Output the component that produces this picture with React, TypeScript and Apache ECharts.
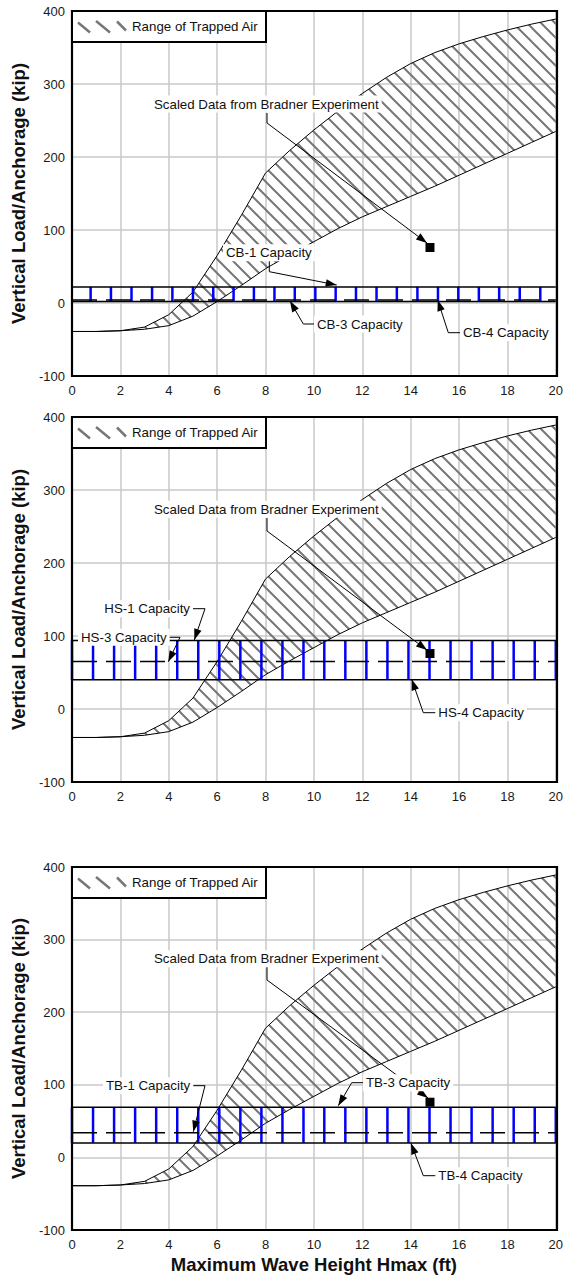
import React, { useEffect, useRef } from "react";
import * as echarts from "echarts";

// ---- data ----
const waveHeights = [0, 1, 2, 3, 4, 5, 6, 7, 8, 9, 10, 11, 12, 13, 14, 15, 16, 17, 18, 19, 20];
const trappedUpper = [-39, -39, -38, -33, -16, 15, 65, 120, 178, 209, 237, 263, 287, 309, 328, 343, 355, 365, 374, 382, 389];
const trappedLower = [-39, -39, -38, -36, -31, -18, 2, 24, 47, 66, 84, 102, 118, 132, 146, 160, 175, 190, 205, 220, 235];
const bradnerPoint = [14.8, 76];

const capTopNames = ["CB-1", "HS-1", "TB-3"];
const capDashNames = ["CB-3", "HS-3", "TB-1"];
const capBottomNames = ["CB-4", "HS-4", "TB-4"];
const capTopValues = [22, 94, 69];
const capDashValues = [4, 65, 34];
const capBottomValues = [2, 40, 20];

const tickXsCB = [0.77, 1.61, 2.46, 3.31, 4.15, 5.0, 5.84, 6.68, 7.52, 8.37, 9.21, 10.06, 10.9, 11.74, 12.59, 13.43, 14.28, 15.13, 15.97, 16.82, 17.66, 18.51, 19.36];
const tickXsHS = [0, 0.87, 1.74, 2.61, 3.48, 4.35, 5.22, 6.09, 6.96, 7.83, 8.7, 9.57, 10.43, 11.3, 12.17, 13.04, 13.91, 14.78, 15.65, 16.52, 17.39, 18.26, 19.13, 20];
const tickXsTB = [0, 0.87, 1.74, 2.61, 3.48, 4.35, 5.22, 6.09, 6.96, 7.83, 8.7, 9.57, 10.43, 11.3, 12.17, 13.04, 13.91, 14.78, 15.65, 16.52, 17.39, 18.26, 19.13, 20];
const tickSets = [tickXsCB, tickXsHS, tickXsTB];

const xMin = 0, xMax = 20, xStep = 2;
const yMin = -100, yMax = 400, yStep = 100;

const yTitle = "Vertical Load/Anchorage (kip)";
const xTitle = "Maximum Wave Height Hmax (ft)";
const legendLabel = "Range of Trapped Air";
const bradnerLabel = "Scaled Data from Bradner Experiment";

// ---- layout ----
const LEFT = 72;
const WIDTH = 485;
const GRIDS = [
  { top: 11, height: 365 },
  { top: 417, height: 365 },
  { top: 867, height: 363 },
];
const FONT = '"Liberation Sans", Arial, Helvetica, sans-serif';
const ANN_FONT = `13.3px ${FONT}`;

type P = [number, number];
type Ann = { text: string; x: number; y: number; pts: P[] };

const annotations: Ann[] = [
  // chart 1
  { text: bradnerLabel, x: 154, y: 104, pts: [[267, 113], [267, 123], [427, 243]] },
  { text: capTopNames[0] + " Capacity", x: 226, y: 252.7, pts: [[269.3, 261], [269.3, 271.7], [336.7, 285]] },
  { text: capDashNames[0] + " Capacity", x: 317, y: 324, pts: [[315, 324], [303.3, 324], [290, 301]] },
  { text: capBottomNames[0] + " Capacity", x: 463, y: 332.7, pts: [[461, 332.7], [448.3, 332.7], [437.7, 300]] },
  // chart 2
  { text: bradnerLabel, x: 154, y: 509.3, pts: [[267, 518], [267, 531], [427, 650]] },
  { text: capTopNames[1] + " Capacity", x: 104.3, y: 608.7, pts: [[192, 608.7], [205, 608.7], [194.3, 640]] },
  { text: capDashNames[1] + " Capacity", x: 81, y: 637.3, pts: [[167, 637.3], [180, 637.3], [168.3, 661.7]] },
  { text: capBottomNames[1] + " Capacity", x: 438.3, y: 712.7, pts: [[436, 712.7], [423.3, 712.7], [411.7, 679.3]] },
  // chart 3
  { text: bradnerLabel, x: 154, y: 958.7, pts: [[267, 967], [267, 980], [428, 1098]] },
  { text: capDashNames[2] + " Capacity", x: 106, y: 1085.7, pts: [[193, 1085.7], [205, 1085.7], [193.3, 1131.7]] },
  { text: capTopNames[2] + " Capacity", x: 366, y: 1082.7, pts: [[364, 1082.7], [351.7, 1082.7], [338.3, 1105.7]] },
  { text: capBottomNames[2] + " Capacity", x: 438.3, y: 1175.7, pts: [[436, 1175.7], [423.3, 1175.7], [411, 1143.3]] },
];

function arrowHead(p0: P, p1: P, len = 11, hw = 3.8): P[] {
  const dx = p1[0] - p0[0];
  const dy = p1[1] - p0[1];
  const d = Math.hypot(dx, dy) || 1;
  const ux = dx / d, uy = dy / d;
  const bx = p1[0] - ux * len, by = p1[1] - uy * len;
  return [
    [p1[0], p1[1]],
    [bx - uy * hw, by + ux * hw],
    [bx + uy * hw, by - ux * hw],
  ];
}

function makeHatch(): HTMLCanvasElement {
  const c = document.createElement("canvas");
  c.width = 14;
  c.height = 14;
  const ctx = c.getContext("2d")!;
  ctx.strokeStyle = "#777777";
  ctx.lineWidth = 2;
  ctx.beginPath();
  ctx.moveTo(-2, -2);
  ctx.lineTo(16, 16);
  ctx.moveTo(12, -2);
  ctx.lineTo(16, 2);
  ctx.moveTo(-2, 12);
  ctx.lineTo(2, 16);
  ctx.stroke();
  return c;
}

export default function App() {
  const ref = useRef<HTMLDivElement>(null);

  useEffect(() => {
    if (!ref.current) return;
    const chart = echarts.init(ref.current, undefined, { renderer: "svg" });
    const hatch = makeHatch();

    const grids = GRIDS.map((g) => ({ left: LEFT, width: WIDTH, top: g.top, height: g.height, show: false }));

    const xAxes = GRIDS.map((_, i) => ({
      type: "value",
      gridIndex: i,
      min: xMin,
      max: xMax,
      interval: xStep,
      axisLine: { show: false },
      axisTick: { show: false },
      splitLine: { show: true, lineStyle: { color: "#c8c8c8", width: 1.5 } },
      axisLabel: { fontSize: 13, color: "#1a1a1a", margin: 8, fontFamily: FONT },
      name: i === 2 ? xTitle : "",
      nameLocation: "middle",
      nameGap: 25,
      nameTextStyle: { fontSize: 18.5, fontWeight: "bold", color: "#111", fontFamily: FONT },
    }));

    const yAxes = GRIDS.map((_, i) => ({
      type: "value",
      gridIndex: i,
      min: yMin,
      max: yMax,
      interval: yStep,
      axisLine: { show: false },
      axisTick: { show: false },
      splitLine: { show: true, lineStyle: { color: "#c8c8c8", width: 1.5 } },
      axisLabel: { fontSize: 13, color: "#1a1a1a", margin: 7, fontFamily: FONT },
      name: yTitle,
      nameLocation: "middle",
      nameRotate: 90,
      nameGap: 40,
      nameTextStyle: { fontSize: 18.5, fontWeight: "bold", color: "#111", fontFamily: FONT },
    }));

    const series: any[] = [];
    GRIDS.forEach((_, i) => {
      series.push({
        type: "custom",
        xAxisIndex: i,
        yAxisIndex: i,
        silent: true,
        z: 1,
        data: [[0, 0]],
        renderItem: (_p: any, api: any) => {
          const pts: number[][] = [];
          for (let k = 0; k < waveHeights.length; k++) pts.push(api.coord([waveHeights[k], trappedUpper[k]]));
          for (let k = waveHeights.length - 1; k >= 0; k--) pts.push(api.coord([waveHeights[k], trappedLower[k]]));
          return {
            type: "polygon",
            shape: { points: pts },
            style: { fill: { image: hatch, repeat: "repeat" }, stroke: null },
          };
        },
      });
      series.push({
        type: "line",
        xAxisIndex: i,
        yAxisIndex: i,
        z: 2,
        symbol: "none",
        lineStyle: { color: "#000", width: 1 },
        data: waveHeights.map((x, k) => [x, trappedUpper[k]]),
      });
      series.push({
        type: "line",
        xAxisIndex: i,
        yAxisIndex: i,
        z: 2,
        symbol: "none",
        lineStyle: { color: "#000", width: 1 },
        data: waveHeights.map((x, k) => [x, trappedLower[k]]),
      });
      series.push({
        type: "custom",
        xAxisIndex: i,
        yAxisIndex: i,
        silent: true,
        z: 3,
        data: tickSets[i].map((x) => [x, capBottomValues[i], capTopValues[i]]),
        renderItem: (_p: any, api: any) => {
          const a = api.coord([api.value(0), api.value(1)]);
          const b = api.coord([api.value(0), api.value(2)]);
          return {
            type: "line",
            shape: { x1: a[0], y1: a[1], x2: b[0], y2: b[1] },
            style: { stroke: "#0000ff", lineWidth: 2.5 },
          };
        },
      });
      series.push({
        type: "line",
        name: capTopNames[i],
        xAxisIndex: i,
        yAxisIndex: i,
        z: 4,
        symbol: "none",
        lineStyle: { color: "#000", width: 1.5 },
        data: [[xMin, capTopValues[i]], [xMax, capTopValues[i]]],
      });
      series.push({
        type: "line",
        name: capDashNames[i],
        xAxisIndex: i,
        yAxisIndex: i,
        z: 4,
        symbol: "none",
        lineStyle: { color: "#000", width: 1.5, type: [25, 9] },
        data: [[xMin, capDashValues[i]], [xMax, capDashValues[i]]],
      });
      series.push({
        type: "line",
        name: capBottomNames[i],
        xAxisIndex: i,
        yAxisIndex: i,
        z: 4,
        symbol: "none",
        lineStyle: { color: "#000", width: 1.5 },
        data: [[xMin, capBottomValues[i]], [xMax, capBottomValues[i]]],
      });
      series.push({
        type: "scatter",
        xAxisIndex: i,
        yAxisIndex: i,
        z: 6,
        symbol: "rect",
        symbolSize: 9,
        itemStyle: { color: "#000", opacity: 1 },
        data: [bradnerPoint],
      });
    });

    const graphics: any[] = [];
    GRIDS.forEach((g) => {
      graphics.push({
        type: "rect",
        z: 30,
        silent: true,
        shape: { x: LEFT, y: g.top, width: WIDTH, height: g.height },
        style: { fill: null, stroke: "#000", lineWidth: 2.2 },
      });
      graphics.push({
        type: "rect",
        z: 40,
        shape: { x: LEFT, y: g.top, width: 194, height: 31 },
        style: { fill: "#fff", stroke: "#000", lineWidth: 2 },
      });
      const segs: [number, number, number, number][] = [
        [78, 11.5, 90, 21.5],
        [96, 10, 110, 21.5],
        [117, 10.5, 126, 19.5],
      ];
      segs.forEach((s) =>
        graphics.push({
          type: "line",
          z: 41,
          shape: { x1: s[0], y1: g.top + s[1], x2: s[2], y2: g.top + s[3] },
          style: { stroke: "#777777", lineWidth: 2.5 },
        })
      );
      graphics.push({
        type: "text",
        z: 41,
        x: 132,
        y: g.top + 15.5,
        style: { text: legendLabel, font: ANN_FONT, fill: "#111", verticalAlign: "middle", align: "left" },
      });
    });

    annotations.forEach((a) => {
      graphics.push({
        type: "polyline",
        z: 50,
        silent: true,
        shape: { points: a.pts },
        style: { stroke: "#000", lineWidth: 1, fill: null },
      });
      const n = a.pts.length;
      graphics.push({
        type: "polygon",
        z: 50,
        silent: true,
        shape: { points: arrowHead(a.pts[n - 2], a.pts[n - 1]) },
        style: { fill: "#000" },
      });
      graphics.push({
        type: "text",
        z: 60,
        x: a.x - 3,
        y: a.y,
        style: {
          text: a.text,
          font: ANN_FONT,
          fill: "#111",
          verticalAlign: "middle",
          align: "left",
          backgroundColor: "#fff",
          padding: [2, 3, 2, 3],
        },
      });
    });

    chart.setOption({
      animation: false,
      backgroundColor: "#fff",
      grid: grids,
      xAxis: xAxes,
      yAxis: yAxes,
      series,
      graphic: { elements: graphics },
    });

    return () => chart.dispose();
  }, []);

  return (
    <div
      ref={ref}
      style={{ position: "absolute", left: 0, top: 0, width: 566, height: 1276, background: "#fff" }}
    />
  );
}
